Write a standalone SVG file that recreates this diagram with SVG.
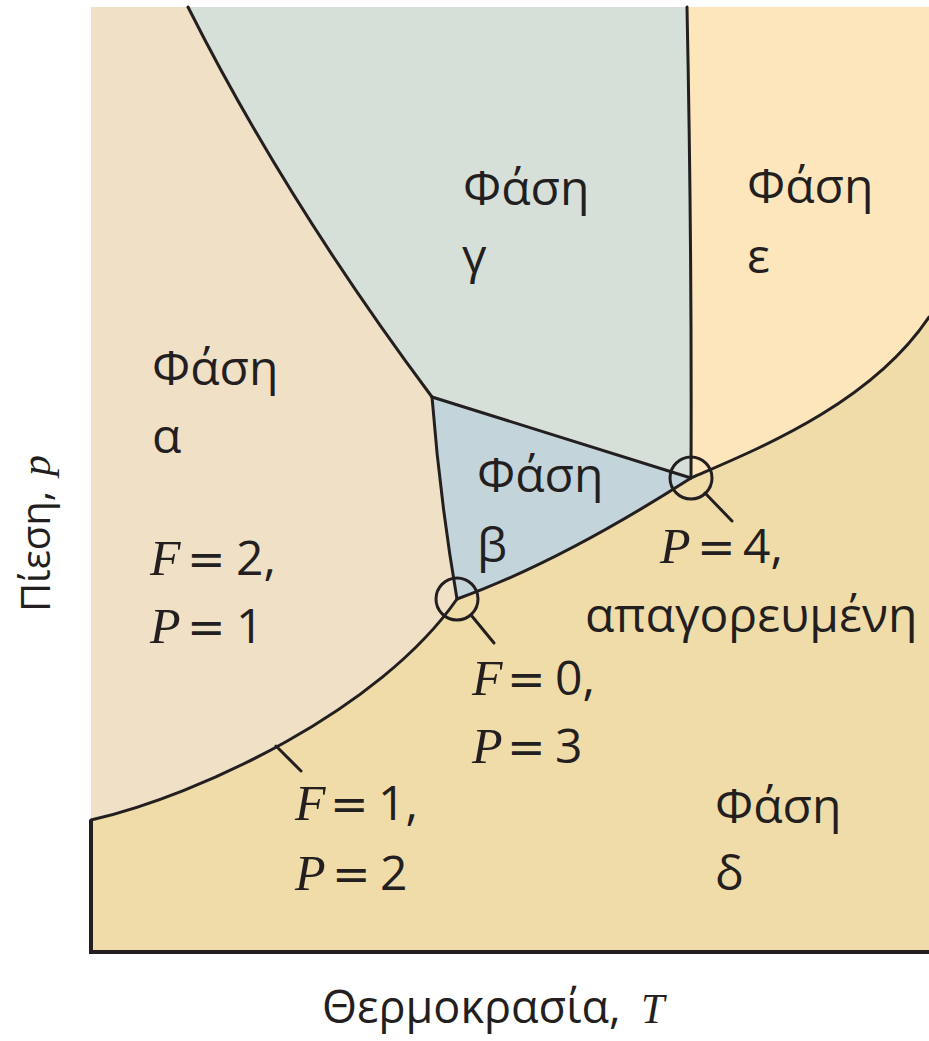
<svg xmlns="http://www.w3.org/2000/svg" width="929" height="1041" viewBox="0 0 929 1041">
<style>
.ln{fill:none;stroke:#231f20;stroke-width:3;stroke-linecap:round;stroke-linejoin:round}
.bd{fill:none;stroke:#231f20;stroke-width:4}
.t{font-family:"Open Sans","Noto Sans",sans-serif;font-size:48px;fill:#231f20}
.eq{font-family:"DejaVu Sans",sans-serif;font-size:46px;fill:#231f20}
.i{font-family:"Liberation Serif",serif;font-style:italic;font-size:50px;fill:#231f20}
.ax{font-family:"Open Sans","Noto Sans",sans-serif;font-size:40px;fill:#231f20}
.axx{font-family:"Open Sans","Noto Sans",sans-serif;font-size:45px;fill:#231f20}
.axi{font-family:"Liberation Serif",serif;font-style:italic;font-size:42px;fill:#231f20}
</style>
<rect width="929" height="1041" fill="#ffffff"/>
<g id="regions">
<rect id="phase-delta" x="91" y="7" width="838" height="945" fill="#f0dca8"/>
<path id="phase-alpha" d="M91,7 L188,7 Q285,200 432,397 Q440,500 457,599 C380,710 200,795 91,820 Z" fill="#f0e0c5"/>
<path id="phase-gamma" d="M188,7 L687,7 Q692,250 691,478 L432,397 Q285,200 188,7 Z" fill="#d6e0d8"/>
<path id="phase-epsilon" d="M687,7 L929,7 L929,317 C870,405 755,450 691,478 Q692,250 687,7 Z" fill="#fde6bb"/>
<path id="phase-beta" d="M432,397 L691,478 Q560,562 457,599 Q440,500 432,397 Z" fill="#c4d4db"/>
</g>
<g id="connectors">
<path class="bd" d="M91,820 L91,952 L929,952"/>
<path class="ln" d="M188,7 Q285,200 432,397"/>
<path class="ln" d="M687,7 Q692,250 691,478"/>
<path class="ln" d="M432,397 L691,478"/>
<path class="ln" d="M432,397 Q440,500 457,599"/>
<path class="ln" d="M457,599 Q560,562 691,478"/>
<path class="ln" d="M691,478 C755,450 870,405 929,317"/>
<path class="ln" d="M91,820 C200,795 380,710 457,599"/>
<circle class="ln" cx="457" cy="599" r="21"/>
<circle class="ln" cx="691" cy="478" r="21"/>
<path class="ln" d="M471,615 L494,643"/>
<path class="ln" d="M705,493 L732,521"/>
<path class="ln" d="M276,746 L301,771"/>
</g>
<g id="label-alpha">
<text class="t" x="152" y="385">Φάση</text>
<text class="t" x="152" y="453">α</text>
<text y="575"><tspan class="i" x="150">F</tspan><tspan class="eq" x="187">=</tspan><tspan class="t" x="236">2,</tspan></text>
<text y="643"><tspan class="i" x="150">P</tspan><tspan class="eq" x="187">=</tspan><tspan class="t" x="236">1</tspan></text>
</g>
<g id="label-gamma">
<text class="t" x="463" y="205">Φάση</text>
<text class="t" x="462" y="273">γ</text>
</g>
<g id="label-epsilon">
<text class="t" x="747" y="203">Φάση</text>
<text class="t" x="747" y="273">ε</text>
</g>
<g id="label-beta">
<text class="t" x="477" y="492">Φάση</text>
<text class="t" x="477" y="562">β</text>
</g>
<g id="label-delta">
<text class="t" x="715" y="823">Φάση</text>
<text class="t" x="715" y="890">δ</text>
</g>
<g id="label-triple">
<text y="695"><tspan class="i" x="472">F</tspan><tspan class="eq" x="507">=</tspan><tspan class="t" x="555">0,</tspan></text>
<text y="763"><tspan class="i" x="472">P</tspan><tspan class="eq" x="507">=</tspan><tspan class="t" x="555">3</tspan></text>
</g>
<g id="label-line">
<text y="820"><tspan class="i" x="295">F</tspan><tspan class="eq" x="330">=</tspan><tspan class="t" x="378">1,</tspan></text>
<text y="890"><tspan class="i" x="295">P</tspan><tspan class="eq" x="332">=</tspan><tspan class="t" x="380">2</tspan></text>
</g>
<g id="label-quad">
<text y="563"><tspan class="i" x="660">P</tspan><tspan class="eq" x="697">=</tspan><tspan class="t" x="743">4,</tspan></text>
<text class="t" x="585" y="632">απαγορευμένη</text>
</g>
<g id="axis-labels">
<text x="322" y="1023"><tspan class="axx">Θερμοκρασία,</tspan><tspan class="axi" x="641">T</tspan></text>
<text transform="translate(50,612) rotate(-90)"><tspan class="ax" x="0" y="0">Πίεση, </tspan><tspan class="axi" x="136" y="0">p</tspan></text>
</g>
</svg>
